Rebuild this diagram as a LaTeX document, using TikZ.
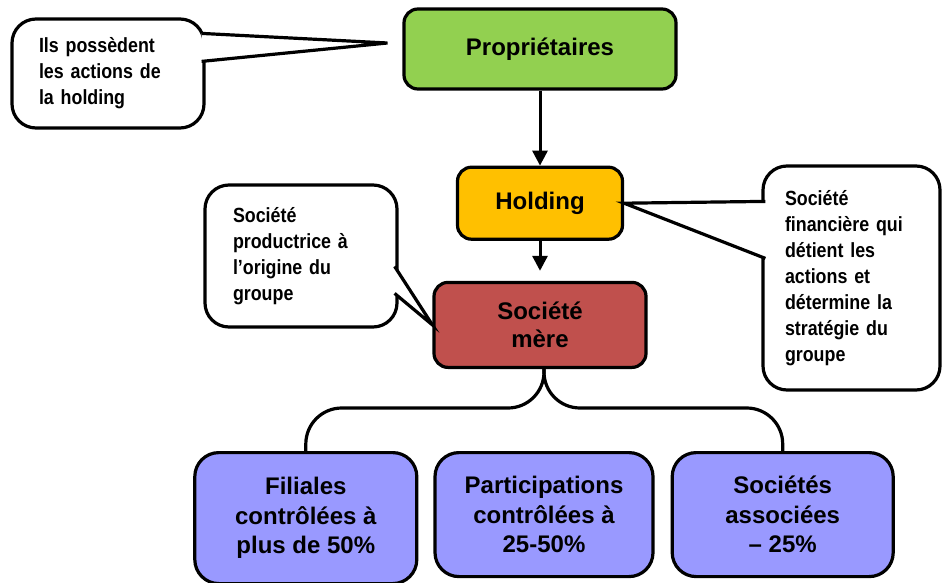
\documentclass[tikz,border=0pt]{standalone}
\usepackage{xcolor}
\usepackage{fontspec}
\setmainfont{Liberation Sans}
\newfontfamily\notefont[FakeStretch=0.87]{Liberation Sans}
\usepackage{tikz}
\usetikzlibrary{arrows.meta, positioning}

\definecolor{propgreen}{HTML}{92D050}
\definecolor{holdorange}{HTML}{FFC000}
\definecolor{merered}{HTML}{C0504D}
\definecolor{filblue}{HTML}{9999FF}

\begin{document}
\begin{tikzpicture}[
        x=1pt, y=-1pt,
        box/.style={rectangle, rounded corners=14pt, draw=black, line width=3.2pt, text centered, align=center, font=\bfseries\fontsize{24}{28}\selectfont},
        group/.style={box, rounded corners=24pt, fill=filblue, minimum width=220pt, minimum height=124pt, font=\bfseries\fontsize{24}{29.5}\selectfont},
        note/.style={rectangle, rounded corners=24pt, draw=black, line width=3.2pt, fill=white, align=left, font=\notefont\bfseries\fontsize{20.5}{26}\selectfont},
        arrow/.style={line width=3pt, -{Triangle[length=15pt,width=15pt]}},
        link/.style={line width=3.2pt, rounded corners=36pt},
        pointer/.style={line width=3.2pt, fill=white, line join=miter}
    ]
    \useasboundingbox (0,0) rectangle (942,583);

    \node (prop) [box, fill=propgreen, minimum width=272pt, minimum height=80pt] at (540,49) {Propriétaires};
    \node (holding) [box, fill=holdorange, minimum width=165pt, minimum height=72pt, below=75pt of prop] {Holding};
    \node (mere) [box, fill=merered, minimum width=212pt, minimum height=85pt, below=40pt of holding] {Société\\mère};

    \node (part) [group, minimum width=218pt, below=82pt of mere, xshift=4pt] {Participations\\contrôlées à\\25-50\%};
    \node (fil) [group, minimum width=222pt, minimum height=131pt, left=15pt of part.north west, anchor=north east] {Filiales\\contrôlées à\\plus de 50\%};
    \node (assoc) [group, minimum width=221pt, right=16pt of part.north east, anchor=north west] {Sociétés\\associées\\– 25\%};

    \draw [arrow] (prop) -- (holding);
    \draw [arrow, shorten >=10pt] (holding.south) -- (holding.south |- mere.north);
    \draw [link] ([xshift=4pt]mere.south) |- ([yshift=43pt]fil.north) -- (fil.north);
    \draw [link] ([xshift=4pt]mere.south) |- ([yshift=43pt]assoc.north) -- (assoc.north);

    % callouts
    \node (note1) [note, minimum width=192pt, minimum height=109pt, text width=138pt] at (108,73.5) {Ils possèdent\\les actions de\\la holding};
    \node (note2) [note, minimum width=192pt, minimum height=142pt, text width=136pt] at (301,256) {Société\\productrice à\\l’origine du\\groupe};
    \node (note3) [note, minimum width=177pt, minimum height=224pt, text width=133pt] at (851.5,278) {Société\\financière qui\\détient les\\actions et\\détermine la\\stratégie du\\groupe};

    \coordinate (tip1) at ([xshift=-15pt,yshift=6pt]prop.west);
    \filldraw [pointer] ([xshift=-4pt,yshift=-16pt]note1.north east) -- (tip1) -- ([xshift=-4pt,yshift=-44pt]note1.north east);
    \filldraw [pointer] ([xshift=-4pt,yshift=-83pt]note2.north east) -- (mere.west) -- ([xshift=-4pt,yshift=-110pt]note2.north east);
    \filldraw [pointer] ([xshift=4pt,yshift=-37pt]note3.north west) -- (holding.east) -- ([xshift=4pt,yshift=-94pt]note3.north west);

\end{tikzpicture}
\end{document}
